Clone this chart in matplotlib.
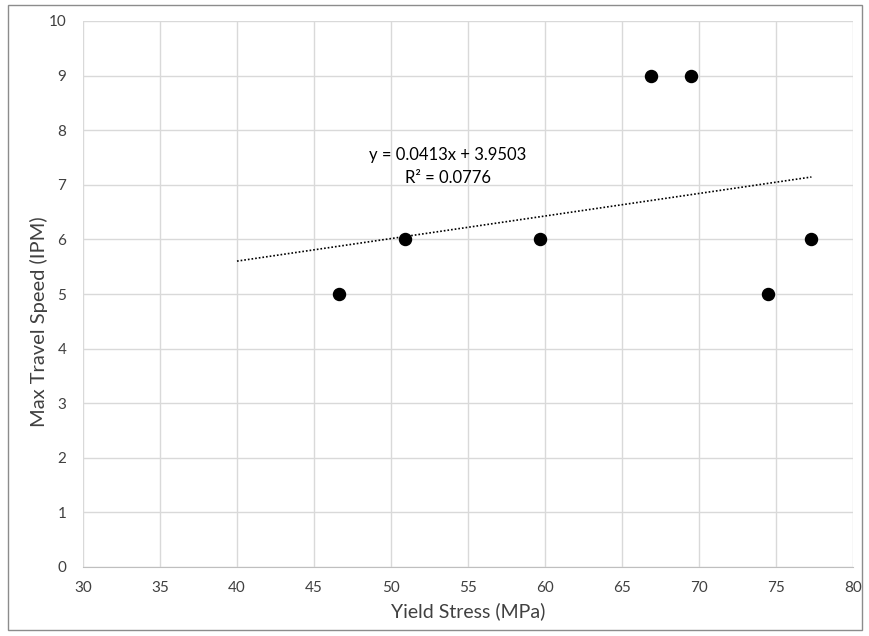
import matplotlib as mpl
mpl.use("Agg")
import matplotlib.pyplot as plt
from matplotlib.patches import Rectangle
import numpy as np

# data
yield_stress = [46.6, 50.9, 59.7, 66.9, 69.5, 74.5, 77.3]
travel_speed = [5, 6, 6, 9, 9, 5, 6]
slope = 0.0413
intercept = 3.9503
r_squared = 0.0776
trend_start = 40

plt.rcParams['font.family'] = ['Lato', 'DejaVu Sans']

fig = plt.figure(figsize=(8.7, 6.36), dpi=100)
ax = fig.add_axes([83/870, 1 - 567/636, (853 - 83)/870, (567 - 21)/636])

ax.scatter(yield_stress, travel_speed, s=75, color='black', zorder=3)

tx = np.array([trend_start, max(yield_stress)])
ax.plot(tx, slope*tx + intercept, color='black', linestyle=(0, (1, 1.2)), linewidth=1.2, zorder=2)

ax.text(448/870, 1 - 155/636, "y = %.4fx + %.4f" % (slope, intercept), transform=fig.transFigure,
        ha='center', va='center', fontsize=12, color='black')
ax.text(448/870, 1 - 178/636, "R² = %.4f" % r_squared, transform=fig.transFigure,
        ha='center', va='center', fontsize=12, color='black')

ax.set_xlim(30, 80)
ax.set_ylim(0, 10)
ax.set_xticks(np.arange(30, 81, 5))
ax.set_yticks(np.arange(0, 11, 1))
ax.grid(True, color='#d9d9d9', linewidth=1)
ax.set_axisbelow(True)
for s in ['top', 'right', 'left']:
    ax.spines[s].set_visible(False)
ax.spines['bottom'].set_color('#bfbfbf')
ax.tick_params(axis='both', length=0, labelsize=11, labelcolor='#404040')
ax.tick_params(axis='y', pad=12)
ax.tick_params(axis='x', pad=10)

ax.set_xlabel("Yield Stress (MPa)", fontsize=14, color='#404040', labelpad=5)
ax.set_ylabel("Max Travel Speed (IPM)", fontsize=14.5, color='#404040', labelpad=8)
ax.yaxis.set_label_coords(-0.045, 0.45)

fig.patches.append(Rectangle((8/870, 1 - 630/636), (862 - 8)/870, (630 - 5)/636,
                             transform=fig.transFigure, fill=False, edgecolor='#8c8c8c', linewidth=1))

plt.savefig("out.png", dpi=100)
